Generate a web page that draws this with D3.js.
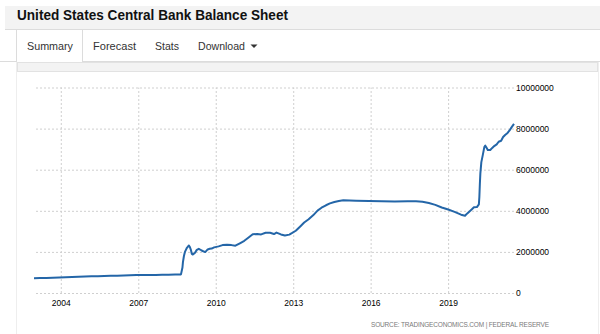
<!DOCTYPE html>
<html>
<head>
<meta charset="utf-8">
<script src="https://cdn.jsdelivr.net/npm/d3@7"></script>
<style>
  html, body { margin: 0; padding: 0; background: #fff; }
  svg { display: block; font-family: "Liberation Sans", Arial, sans-serif; }
</style>
</head>
<body>
<svg id="chart" width="600" height="334"></svg>
<script>
// ---- Data (Fed balance sheet, millions USD) ----
const dates = [
  "2002-12-18","2003-03-12","2003-06-11","2003-09-10","2003-12-10",
  "2004-03-10","2004-06-09","2004-09-08","2004-12-08",
  "2005-03-09","2005-06-08","2005-09-07","2005-12-07",
  "2006-03-08","2006-06-07","2006-09-06","2006-12-06",
  "2007-03-07","2007-06-06","2007-09-05","2007-12-05",
  "2008-03-05","2008-06-04","2008-08-27","2008-09-17","2008-09-24",
  "2008-10-08","2008-10-22","2008-11-05","2008-11-19","2008-12-17","2008-12-31",
  "2009-01-14","2009-01-28","2009-02-11","2009-03-11","2009-04-08","2009-05-06",
  "2009-06-10","2009-07-08","2009-08-05","2009-09-09","2009-10-07","2009-11-04","2009-12-09",
  "2010-02-10","2010-04-07","2010-06-09","2010-08-11","2010-10-06","2010-12-08",
  "2011-02-09","2011-04-06","2011-06-08","2011-08-10","2011-10-05","2011-12-07",
  "2012-02-08","2012-04-04","2012-05-09","2012-07-11","2012-09-05","2012-11-07","2012-12-12",
  "2013-02-06","2013-04-10","2013-06-05","2013-08-07","2013-10-09","2013-12-11",
  "2014-02-05","2014-04-09","2014-06-04","2014-08-06","2014-10-08","2014-12-10",
  "2015-06-10","2015-12-09","2016-06-08","2016-12-07","2017-06-07","2017-10-04",
  "2018-01-03","2018-04-04","2018-07-04","2018-10-03",
  "2019-01-02","2019-04-03","2019-07-03","2019-08-28","2019-09-25","2019-10-30","2019-12-04",
  "2020-01-01","2020-02-12","2020-03-11","2020-03-18","2020-03-25","2020-04-01","2020-04-15",
  "2020-05-06","2020-05-27","2020-06-10","2020-06-24","2020-07-15","2020-08-19","2020-09-16",
  "2020-10-14","2020-11-18","2020-12-16",
  "2021-01-20","2021-02-17","2021-03-17","2021-04-21","2021-05-19","2021-06-16","2021-07-21"
];
const values = [
  720000,730000,735000,745000,760000,
  765000,775000,790000,805000,
  810000,820000,830000,845000,
  845000,855000,860000,870000,
  870000,875000,880000,890000,
  885000,895000,905000,1240000,1500000,
  1800000,2000000,2100000,2200000,2310000,2240000,
  2100000,1900000,1870000,1950000,2100000,2150000,
  2080000,2030000,1990000,2120000,2150000,2160000,2220000,
  2270000,2330000,2350000,2330000,2300000,2420000,
  2540000,2690000,2860000,2870000,2850000,2930000,
  2930000,2870000,2940000,2850000,2800000,2840000,2910000,
  3030000,3240000,3430000,3590000,3780000,4010000,
  4150000,4270000,4360000,4430000,4480000,4510000,
  4490000,4480000,4470000,4450000,4470000,4460000,
  4440000,4380000,4290000,4160000,
  4060000,3950000,3810000,3760000,3860000,3970000,4080000,
  4170000,4180000,4310000,4670000,5300000,5810000,6370000,
  6720000,7100000,7170000,7090000,6960000,6960000,7060000,
  7150000,7230000,7360000,
  7410000,7590000,7690000,7790000,7910000,8060000,8230000
];
const yearTicks = [2004, 2007, 2010, 2013, 2016, 2019];
const valueTicks = [0, 2000000, 4000000, 6000000, 8000000, 10000000];
const title = "United States Central Bank Balance Sheet";
const tabs = ["Summary", "Forecast", "Stats", "Download"];
const sourceText = "SOURCE: TRADINGECONOMICS.COM  |  FEDERAL RESERVE";

const parse = d3.timeParse("%Y-%m-%d");
const data = dates.map((d, i) => ({ date: parse(d), value: values[i] }));

const svg = d3.select("#chart");

// ---- Page chrome ----
svg.append("rect").attr("x", 5).attr("y", 6).attr("width", 595).attr("height", 23).attr("fill", "#f3f3f3");
svg.append("line").attr("x1", 5).attr("x2", 600).attr("y1", 29.5).attr("y2", 29.5).attr("stroke", "#dcdcdc");
svg.append("text").attr("x", 17).attr("y", 20).attr("font-size", 15).attr("font-weight", "bold")
  .attr("fill", "#111").attr("textLength", 271).attr("lengthAdjust", "spacingAndGlyphs").text(title);

// tab row
svg.append("line").attr("x1", 0).attr("x2", 16.5).attr("y1", 61.5).attr("y2", 61.5).attr("stroke", "#dcdcdc");
svg.append("line").attr("x1", 82.5).attr("x2", 600).attr("y1", 61.5).attr("y2", 61.5).attr("stroke", "#dcdcdc");
svg.append("line").attr("x1", 16.5).attr("x2", 16.5).attr("y1", 30).attr("y2", 62).attr("stroke", "#dcdcdc");
svg.append("line").attr("x1", 82.5).attr("x2", 82.5).attr("y1", 30).attr("y2", 62).attr("stroke", "#dcdcdc");
const tabX = [27, 93, 155, 198];
const tabW = [46, 43, 24, 47];
svg.selectAll("text.tab").data(tabs).join("text").attr("class", "tab")
  .attr("x", (d, i) => tabX[i]).attr("y", 50).attr("font-size", 11.5).attr("fill", "#333")
  .attr("textLength", (d, i) => tabW[i]).attr("lengthAdjust", "spacingAndGlyphs")
  .text(d => d);
svg.append("path").attr("d", "M250.5,44.5 L257.5,44.5 L254,48 Z").attr("fill", "#333");

// panel
svg.append("rect").attr("x", 17.5).attr("y", 62.5).attr("width", 580).attr("height", 9)
  .attr("fill", "#f3f3f3").attr("stroke", "#e2e2e2");
svg.append("line").attr("x1", 16.5).attr("x2", 16.5).attr("y1", 62).attr("y2", 334).attr("stroke", "#eeeeee");
svg.append("line").attr("x1", 598.5).attr("x2", 598.5).attr("y1", 62).attr("y2", 334).attr("stroke", "#eeeeee");

// ---- Chart ----
const x0 = 34, x1 = 514, yTop = 87.5, yBot = 293;
const x = d3.scaleTime().domain([parse("2002-12-18"), parse("2021-07-21")]).range([x0, x1]);
const y = d3.scaleLinear().domain([0, 10000000]).range([yBot, yTop]);

const xAxis = d3.axisBottom(x)
  .tickValues(yearTicks.map(yr => new Date(yr, 0, 1)))
  .tickFormat(d3.timeFormat("%Y"))
  .tickSize(-(yBot - yTop)).tickPadding(7);
const gx = svg.append("g").attr("transform", `translate(0,${yBot})`).call(xAxis);
gx.select(".domain").remove();
gx.selectAll(".tick line").attr("stroke", "#cfcfcf").attr("stroke-dasharray", "2,2");
gx.selectAll(".tick text").attr("font-size", 8.5).attr("fill", "#000")
  .attr("font-family", "'Liberation Sans', Arial, sans-serif");

const yAxis = d3.axisRight(y)
  .tickValues(valueTicks).tickFormat(d3.format("d"))
  .tickSize(-(x1 - x0)).tickPadding(2);
const gy = svg.append("g").attr("transform", `translate(${x1},0)`).call(yAxis);
gy.select(".domain").remove();
gy.selectAll(".tick line").attr("stroke", "#cfcfcf").attr("stroke-dasharray", "2,2");
gy.selectAll(".tick text").attr("font-size", 8.5).attr("fill", "#000")
  .attr("font-family", "'Liberation Sans', Arial, sans-serif");

const line = d3.line().x(d => x(d.date)).y(d => y(d.value));
svg.append("path").datum(data).attr("d", line)
  .attr("fill", "none").attr("stroke", "#2466a8").attr("stroke-width", 2)
  .attr("stroke-linejoin", "round");

// source
svg.append("text").attr("x", 371).attr("y", 327).attr("font-size", 6.5)
  .attr("fill", "#7a7a7a")
  .attr("textLength", 178).attr("lengthAdjust", "spacing")
  .text(sourceText);
</script>
</body>
</html>
